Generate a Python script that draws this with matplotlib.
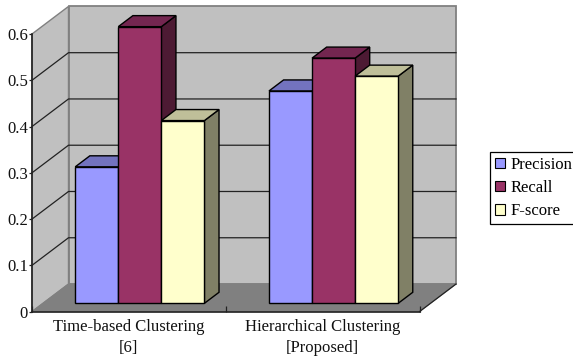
import matplotlib
matplotlib.use('Agg')
import matplotlib.pyplot as plt
from matplotlib.patches import Polygon, Patch

plt.rcParams['font.family'] = ['Liberation Serif', 'DejaVu Serif']

categories = ['Time-based Clustering\n[6]', 'Hierarchical Clustering\n[Proposed]']
series = ['Precision', 'Recall', 'F-score']
precision = [0.295, 0.459]
recall = [0.598, 0.53]
fscore = [0.395, 0.491]
y_ticks = [0, 0.1, 0.2, 0.3, 0.4, 0.5, 0.6]
y_labels = ['0', '0.1', '0.2', '0.3', '0.4', '0.5', '0.6']

front_colors = ['#9999FF', '#993366', '#FFFFCC']
top_colors = ['#7373BF', '#732650', '#BFBF99']
side_colors = ['#4D4D80', '#4D1A33', '#808066']

# 3D look: the depth of the box, in data units
DX = 0.1884
DY = 0.0596
BAR_W = 1 / 4.5
BAR_START = 0.3
BAR_END = 0.7

W, H = 573, 356
fig = plt.figure(figsize=(W / 100, H / 100), dpi=100)
ax = fig.add_axes([32 / W, 1 - 311.6 / H, 387.5 / W, 277.6 / H])
ax.set_xlim(0, len(categories))
ax.set_ylim(0, 0.6)
ax.patch.set_visible(False)


def poly(points, face, edge='black', lw=1.0, z=1):
    ax.add_patch(Polygon(points, closed=True, facecolor=face, edgecolor=edge,
                         linewidth=lw, zorder=z, clip_on=False, joinstyle='miter'))


xmax = len(categories)
ymax = y_ticks[-1]

# walls and floor
poly([(DX, DY), (xmax + DX, DY), (xmax + DX, ymax + DY), (DX, ymax + DY)], '#C0C0C0', '#808080', 1.3)
poly([(0, 0), (DX, DY), (DX, ymax + DY), (0, ymax)], '#C0C0C0', '#808080', 1.0)
poly([(0, 0), (xmax, 0), (xmax + DX, DY), (DX, DY)], '#808080', '#808080', 0.8)
ax.plot([xmax, xmax + DX], [0, DY], color='#222222', lw=0.9, zorder=1.2, clip_on=False)

# grid lines
for v in y_ticks[1:-1]:
    ax.plot([0, DX, xmax + DX], [v, v + DY, v + DY], color='#222222', lw=0.9, zorder=1.5, clip_on=False)

# bars, drawn back to front
z = 2
for i in range(len(categories)):
    vals = [precision[i], recall[i], fscore[i]]
    for j, val in enumerate(vals):
        x0 = i + 0.75 * BAR_W + j * BAR_W + BAR_START * DX
        x1 = x0 + BAR_W
        b = BAR_START * DY
        t = b + val
        ddx = (BAR_END - BAR_START) * DX
        ddy = (BAR_END - BAR_START) * DY
        poly([(x1, b), (x1 + ddx, b + ddy), (x1 + ddx, t + ddy), (x1, t)], side_colors[j], z=z)
        poly([(x0, t), (x1, t), (x1 + ddx, t + ddy), (x0 + ddx, t + ddy)], top_colors[j], z=z)
        poly([(x0, b), (x1, b), (x1, t), (x0, t)], front_colors[j], z=z)
        z += 1

# axes
for s in ['top', 'right']:
    ax.spines[s].set_visible(False)
for s in ['left', 'bottom']:
    ax.spines[s].set_color('#222222')
    ax.spines[s].set_linewidth(1.2)
    ax.spines[s].set_zorder(20)

ax.set_yticks(y_ticks)
ax.set_yticklabels(y_labels, fontsize=12, color='#111111')
ax.tick_params(axis='y', direction='out', length=2, width=0.9, pad=1, color='#222222')

ax.set_xticks(range(xmax + 1))
ax.set_xticklabels([])
ax.tick_params(axis='x', which='major', direction='in', length=4, width=0.9, color='#222222')
ax.set_xticks([i + 0.5 for i in range(xmax)], minor=True)
ax.set_xticklabels(categories, minor=True, fontsize=12, color='#111111', linespacing=1.38)
ax.tick_params(axis='x', which='minor', length=0, pad=5.3)

handles = [Patch(facecolor=c, edgecolor='black', linewidth=0.8, label=s)
           for c, s in zip(front_colors, series)]
leg = fig.legend(handles=handles, loc='upper left',
                 bbox_to_anchor=(490.3 / W, 1 - 151.7 / H), borderaxespad=0,
                 fancybox=False, framealpha=1, edgecolor='black', fontsize=12,
                 handlelength=0.6, handleheight=0.6, handletextpad=0.3,
                 labelspacing=0.44, borderpad=0.3)
leg.get_frame().set_linewidth(0.9)

fig.savefig('out.png', dpi=100)
